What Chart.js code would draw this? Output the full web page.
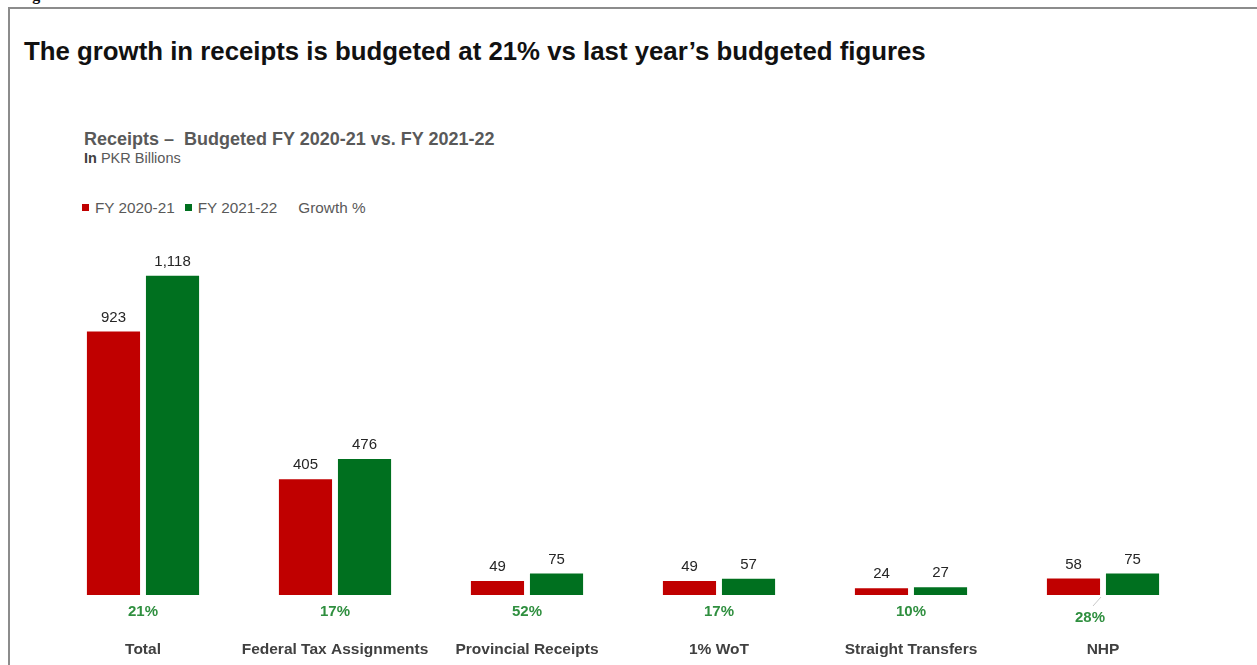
<!DOCTYPE html>
<html>
<head>
<meta charset="utf-8">
<script src="https://cdn.jsdelivr.net/npm/chart.js@4.4.0/dist/chart.umd.min.js"></script>
<style>
  body { margin: 0; background: #fff; font-family: "Liberation Sans", Arial, sans-serif; }
  #wrap { position: relative; width: 1257px; height: 665px; overflow: hidden; }
  #frame { position: absolute; left: 8px; top: 7px; right: -10px; bottom: -10px;
           border-left: 2px solid #8c8c8c; border-top: 2px solid #8c8c8c; }
  #fig { position: absolute; left: 18px; top: -14px; font: bold 16px "Liberation Serif", serif; color: #111; }
  #title { position: absolute; left: 24px; top: 37px; font-weight: bold; font-size: 25.8px; color: #111; white-space: nowrap; }
  #sub { position: absolute; left: 84px; top: 129px; font-weight: bold; font-size: 18px; color: #595959; white-space: nowrap; }
  #unit { position: absolute; left: 84px; top: 150px; font-size: 14.5px; color: #595959; }
  #unit b { color: #404040; }
  #legend { position: absolute; left: 82px; top: 199px; font-size: 15.3px; color: #595959; white-space: nowrap; }
  #legend span { margin-right: 10px; }
  #legend i { display: inline-block; width: 7px; height: 7px; margin-right: 6px; vertical-align: 2px; }
  #chartBox { position: absolute; left: 0; top: 0; width: 1257px; height: 665px; }
</style>
</head>
<body>
<div id="wrap">
  <div id="fig">Figure 2:</div>
  <div id="frame"></div>
  <div id="title">The growth in receipts is budgeted at 21% vs last year’s budgeted figures</div>
  <div id="sub">Receipts –&nbsp; Budgeted FY 2020-21 vs. FY 2021-22</div>
  <div id="unit"><b>In</b> PKR Billions</div>
  <div id="legend"></div>
  <div id="chartBox"><canvas id="receipts"></canvas></div>
</div>
<script>
const categories = ['Total', 'Federal Tax Assignments', 'Provincial Receipts', '1% WoT', 'Straight Transfers', 'NHP'];
const fy2021 = [923, 405, 49, 49, 24, 58];
const fy2122 = [1118, 476, 75, 57, 27, 75];
const growth = [21, 17, 52, 17, 10, 28];

const red = '#c00000';
const green = '#00701f';
const growthGreen = '#2f8f3f';

// legend row above the plot
const legend = document.getElementById('legend');
[['FY 2020-21', red], ['FY 2021-22', green], ['Growth %', null]].forEach(([label, color]) => {
  const s = document.createElement('span');
  if (color) {
    const box = document.createElement('i');
    box.style.background = color;
    s.appendChild(box);
  } else {
    s.style.marginLeft = '11px';
  }
  s.appendChild(document.createTextNode(label));
  legend.appendChild(s);
});

function fmt(v) {
  return v.toLocaleString('en-US');
}

// value labels over the bars and growth % under each pair
const barLabels = {
  id: 'barLabels',
  afterDatasetsDraw(chart) {
    const ctx = chart.ctx;
    ctx.save();
    ctx.textAlign = 'center';
    ctx.textBaseline = 'middle';
    ctx.font = '15px "Liberation Sans", Arial, sans-serif';
    ctx.fillStyle = '#262626';
    chart.data.datasets.forEach((ds, i) => {
      chart.getDatasetMeta(i).data.forEach((bar, j) => {
        ctx.fillText(fmt(ds.data[j]), bar.x, bar.y - 14);
      });
    });

    const base = chart.scales.y.getPixelForValue(0);
    ctx.font = 'bold 15px "Liberation Sans", Arial, sans-serif';
    ctx.fillStyle = growthGreen;
    growth.forEach((g, j) => {
      let x = chart.scales.x.getPixelForValue(j);
      let y = base + 17;
      if (j === categories.length - 1) {
        // NHP label sits a bit lower with a small leader line
        ctx.strokeStyle = '#c8c8c8';
        ctx.lineWidth = 1;
        ctx.beginPath();
        ctx.moveTo(x - 2, base + 2);
        ctx.lineTo(x - 10, base + 11);
        ctx.stroke();
        x -= 13;
        y += 6;
      }
      ctx.fillText(g + '%', x, y);
    });
    ctx.restore();
  }
};

new Chart(document.getElementById('receipts'), {
  type: 'bar',
  data: {
    labels: categories,
    datasets: [
      { label: 'FY 2020-21', data: fy2021, backgroundColor: red },
      { label: 'FY 2021-22', data: fy2122, backgroundColor: green }
    ]
  },
  options: {
    responsive: true,
    maintainAspectRatio: false,
    animation: false,
    datasets: { bar: { categoryPercentage: 0.615, barPercentage: 0.9 } },
    layout: { padding: { left: 47, right: 58, top: 238, bottom: 0 } },
    plugins: {
      legend: { display: false },
      tooltip: { enabled: false }
    },
    scales: {
      x: {
        grid: { display: false, drawTicks: false },
        border: { display: false },
        ticks: {
          color: '#404040',
          padding: 45,
          maxRotation: 0,
          minRotation: 0,
          autoSkip: false,
          font: { family: '"Liberation Sans", Arial, sans-serif', size: 15.5, weight: 'bold' }
        },
        afterFit(scale) { scale.height = 70; }
      },
      y: {
        display: false,
        min: 0,
        max: 1250
      }
    }
  },
  plugins: [barLabels]
});
</script>
</body>
</html>
